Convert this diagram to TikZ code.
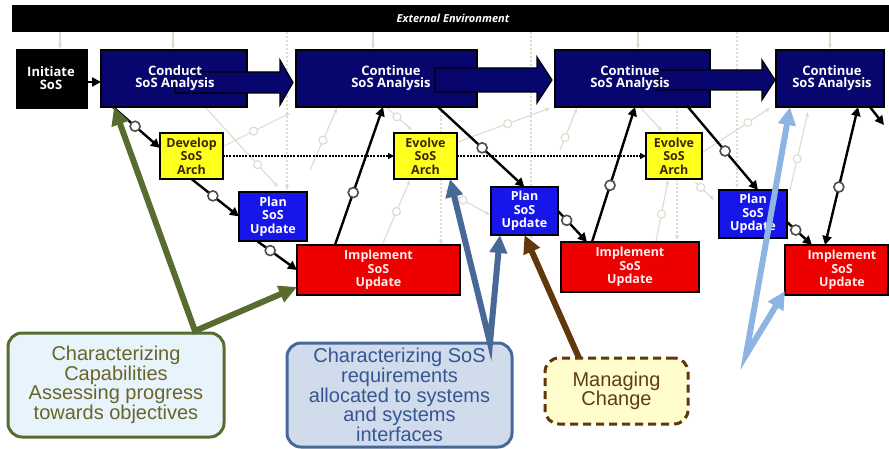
\documentclass[tikz,border=0pt]{standalone}
\usepackage{fontspec}
\usetikzlibrary{arrows.meta,calc}
\newfontfamily\boxfont{Open Sans}
\newfontfamily\callfont{Liberation Sans}
\definecolor{navybox}{RGB}{6,6,110}
\definecolor{planblue}{RGB}{22,22,235}
\definecolor{implred}{RGB}{236,0,0}
\definecolor{archyellow}{RGB}{255,255,30}
\definecolor{archtext}{RGB}{60,40,0}
\definecolor{ghost}{RGB}{220,220,206}
\definecolor{olivegreen}{RGB}{88,108,48}
\definecolor{olivetext}{RGB}{105,100,40}
\definecolor{steel}{RGB}{72,104,152}
\definecolor{steeltext}{RGB}{55,85,145}
\definecolor{skyblue}{RGB}{142,180,227}
\definecolor{chestnut}{RGB}{96,56,12}
\definecolor{chestnuttext}{RGB}{96,60,25}
\definecolor{paleblue}{RGB}{232,244,252}
\definecolor{lightsteel}{RGB}{208,220,236}
\definecolor{paleyellow}{RGB}{255,253,204}
\begin{document}
\begin{tikzpicture}[x=1pt,y=-1pt,
  stage/.style={draw=black,line width=1.2pt,inner sep=0pt,outer sep=0pt},
  analysis/.style={stage,fill=navybox},
  archbox/.style={stage,fill=archyellow,text=archtext,align=center,
    font=\boxfont\bfseries\fontsize{12.5}{13.5}\selectfont},
  planbox/.style={stage,fill=planblue,text=white,align=center,
    font=\boxfont\bfseries\fontsize{12.5}{13.5}\selectfont},
  implbox/.style={stage,fill=implred},
  boxtext/.style={text=white,align=center,inner sep=0pt,
    font=\boxfont\bfseries\fontsize{13}{12.5}\selectfont},
  impltext/.style={text={rgb,255:red,255;green,236;blue,236},align=center,inner sep=0pt,
    font=\boxfont\bfseries\fontsize{12.5}{13.5}\selectfont},
  flow/.style={draw=black,line width=2.4pt,-{Triangle[length=9pt,width=9pt]}},
  flowboth/.style={draw=black,line width=2.4pt,{Triangle[length=9pt,width=9pt]}-{Triangle[length=9pt,width=9pt]}},
  ring/.style={circle,draw=black!70,fill=white,line width=1.6pt,minimum size=10pt,inner sep=0pt},
  archlink/.style={draw=black,line width=1.5pt,dash pattern=on 2pt off 1.2pt,
    -{Triangle[length=6pt,width=6pt]}},
  ghostline/.style={draw=ghost,line width=1.1pt,-{Stealth[length=5pt,width=4pt]}},
  ghostdash/.style={ghostline,dash pattern=on 2pt off 2pt},
  ghostring/.style={circle,draw=ghost,fill=white,line width=1.1pt,minimum size=8pt,inner sep=0pt},
  blockarrow/.style={fill=navybox,draw=black,line width=1.2pt,line join=miter},
  callout/.style={rounded corners=14pt,line width=3pt,align=center,inner sep=0pt,
    font=\callfont\fontsize{20}{18.5}\selectfont},
  pointer/.style={line width=6pt,-{Triangle[length=18pt,width=17pt]}},
  pointerpair/.style={line width=6pt,line join=miter,
    {Triangle[length=18pt,width=17pt]}-{Triangle[length=18pt,width=17pt]}},
]
\useasboundingbox (0,0) rectangle (889,449);

% faint background network
\foreach \x in {60,173,373,638,830}
  \draw[ghostline] (\x,32) -- (\x,49);
\draw[ghostdash] (287,32) -- (287,190);
\draw[ghostdash] (441,107) -- (441,245);
\draw[ghostdash] (531,32) -- (531,240);
\draw[ghostdash] (677,107) -- (677,240);
\draw[ghostdash] (737,28) -- (737,188);
\draw[ghostline] (205,107) -- node[ghostring,pos=.72]{} (278,187);
\draw[ghostline] (224,146) -- node[ghostring,pos=.45]{} (290,113);
\draw[ghostline] (310,170) -- node[ghostring,pos=.48]{} (337,108);
\draw[ghostline] (383,243) -- node[ghostring,pos=.5]{} (410,180);
\draw[ghostline] (387,108) -- node[ghostring,pos=.4]{} (412,130);
\draw[ghostline] (445,190) -- node[ghostring,pos=.4]{} (490,215);
\draw[ghostline] (458,142) -- node[ghostring,pos=.54]{} (550,108);
\draw[ghostline] (560,150) -- node[ghostring,pos=.3]{} (577,108);
\draw[ghostline] (640,107) -- (662,131);
\draw[ghostline] (656,242) -- node[ghostring,pos=.45]{} (668,180);
\draw[ghostline] (695,182) -- node[ghostring,pos=.3]{} (714,200);
\draw[ghostline] (703,152) -- node[ghostring,pos=.67]{} (770,108);
\draw[ghostline] (790,190) -- node[ghostring,pos=.4]{} (808,112);

% environment band
\node[fill=black,minimum width=877pt,minimum height=27pt,inner sep=0pt] (env) at (450.5,18.5) {};
\node[text=white,inner sep=0pt,font=\boxfont\bfseries\itshape\fontsize{11}{12}\selectfont]
  (envtxt) at (453,18.5) {External Environment};

% analysis boxes
\node[stage,fill=black,minimum width=70pt,minimum height=58pt] (init) at (52,79) {};
\node[analysis,minimum width=146pt,minimum height=57pt] (conduct) at (174,78.5) {};
\node[analysis,minimum width=181pt,minimum height=57pt] (cont1) at (386.5,78.5) {};
\node[analysis,minimum width=155pt,minimum height=57pt] (cont2) at (632.5,78.5) {};
\node[analysis,minimum width=108pt,minimum height=57pt] (cont3) at (830,78.5) {};

% wide arrows carrying the analysis forward
\draw[blockarrow] (175,72) -- (280,72) -- (280,60) -- (293,82.5) -- (280,105) -- (280,93) -- (175,93) -- cycle;
\draw[blockarrow] (435,68) -- (537,68) -- (537,57) -- (552,80) -- (537,103) -- (537,92) -- (435,92) -- cycle;
\draw[blockarrow] (658,70) -- (762,70) -- (762,60) -- (775,80) -- (762,100) -- (762,90) -- (658,90) -- cycle;

\node[boxtext] (inittxt) at (51,78) {Initiate\\SoS};
\node[boxtext] (conducttxt) at (175,78) {Conduct\\SoS Analysis};
\node[boxtext] (cont1txt) at (391,78) {Continue\\SoS Analysis};
\node[boxtext] (cont2txt) at (630,78) {Continue\\SoS Analysis};
\node[boxtext] (cont3txt) at (832,78) {Continue\\SoS Analysis};

% architecture boxes
\node[archbox,minimum width=63pt,minimum height=46pt] (develop) at (191.5,156) {Develop\\SoS\\Arch};
\node[archbox,minimum width=63pt,minimum height=46pt] (evolve1) at (425.5,156) {Evolve\\SoS\\Arch};
\node[archbox,minimum width=56pt,minimum height=46pt] (evolve2) at (674,156) {Evolve\\SoS\\Arch};

% planning boxes
\node[planbox,minimum width=68pt,minimum height=49pt] (plan1) at (273,216.5) {Plan\\SoS\\Update};
\node[planbox,minimum width=67pt,minimum height=48pt] (plan2) at (524.5,211) {Plan\\SoS\\Update};
\node[planbox,minimum width=68pt,minimum height=48pt] (plan3) at (753,214) {Plan\\SoS\\Update};

% implementation boxes
\node[implbox,minimum width=163pt,minimum height=50pt] (impl1) at (378.5,270) {};
\node[implbox,minimum width=138pt,minimum height=50pt] (impl2) at (630,267) {};
\node[implbox,minimum width=103pt,minimum height=50pt] (impl3) at (836.5,270) {};
\node[impltext] (impl1txt) at (378.5,270) {Implement\\SoS\\Update};
\node[impltext] (impl2txt) at (630,267) {Implement\\SoS\\Update};
\node[impltext] (impl3txt) at (842,270) {Implement\\SoS\\Update};

% process flow
\draw[flow] (init.east |- 0,82) -- (conduct.west |- 0,82);
\draw[flow] ($(conduct.south west)+(12,0)$) -- node[ring,pos=.47]{} ($(develop.north west)+(0,15)$);
\draw[flow] (develop.south) -- node[ring,pos=.45]{} (plan1.west);
\draw[flow] ($(plan1.south west)+(18,0)$) -- node[ring,pos=.33]{} (impl1.west);
\draw[flow] ($(impl1.north west)+(38,0)$) -- node[ring,pos=.38]{} ($(cont1.south west)+(87,0)$);
\draw[flow] ($(cont1.south west)+(142,0)$) -- node[ring,pos=.51]{} (plan2.north);
\draw[flow] (plan2.east) -- node[ring,pos=.3]{} ($(impl2.north west)+(26,0)$);
\draw[flow] ($(impl2.north west)+(31,0)$) -- node[ring,pos=.42]{} ($(cont2.south west)+(80,0)$);
\draw[flow] ($(cont2.south west)+(133,0)$) -- node[ring,pos=.53]{} ($(plan3.north west)+(39,0)$);
\draw[flow] ($(plan3.east)+(0,8)$) -- node[ring,pos=.35]{} ($(impl3.north west)+(27,0)$);
\draw[flowboth] ($(impl3.north west)+(40,0)$) -- node[ring,pos=.42]{} ($(cont3.south west)+(82,0)$);
\coordinate (onward) at (884,125);
\draw[flow] ($(cont3.south west)+(94,0)$) -- (onward);

% architecture evolution
\draw[archlink] (develop.east) -- (evolve1.west);
\draw[archlink] (evolve1.east) -- (evolve2.west);

% callouts
\node[callout,draw=olivegreen,fill=paleblue,text=olivetext,minimum width=216pt,minimum height=104pt]
  (capab) at (116,385) {Characterizing\\Capabilities\\Assessing progress\\towards objectives};
\node[callout,draw=steel,fill=lightsteel,text=steeltext,minimum width=225pt,minimum height=104pt]
  (reqs) at (399.5,395) {Characterizing SoS\\requirements\\allocated to systems\\and systems\\interfaces};
\node[callout,draw=chestnut,fill=paleyellow,text=chestnuttext,dash pattern=on 8pt off 5pt,
  minimum width=143pt,minimum height=66pt] (change) at (616.5,391) {Managing\\Change};

% pointers from the callouts
\coordinate (capabtip) at (195,331);
\coordinate (reqstip) at (490,343);
\coordinate (changetip) at (579,358);
\coordinate (freetip) at (746,355);
\draw[pointerpair,draw=olivegreen] ($(conduct.south west)+(13,0)$) -- (capabtip) -- ($(impl1.south west)+(0,-8)$);
\draw[pointerpair,draw=steel] ($(evolve1.south east)+(-7,0)$) -- (reqstip) -- ($(plan2.south west)+(9,0)$);
\draw[pointer,draw=chestnut] (changetip) -- (plan2.south);
\draw[pointerpair,draw=skyblue] ($(cont3.south west)+(14,0)$) -- (freetip) -- ($(impl3.south west)+(0,-4)$);
\end{tikzpicture}
\end{document}
